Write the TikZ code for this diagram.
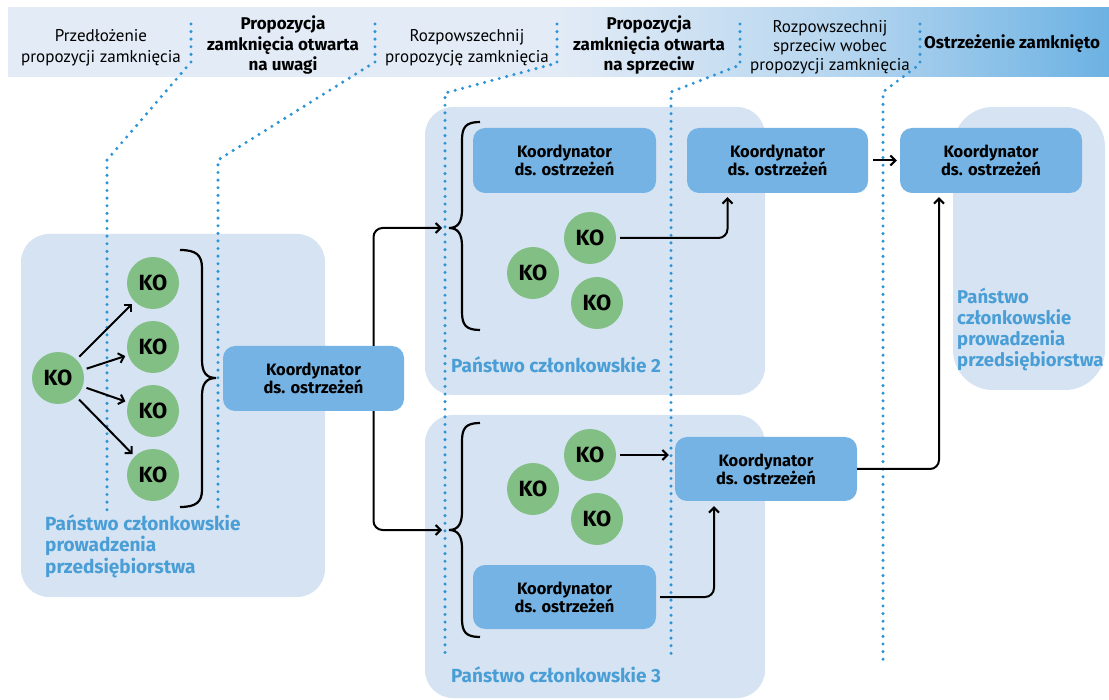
\documentclass[tikz,border=0pt]{standalone}
\usepackage{fontspec}
\setmainfont{PT Sans}
\newfontfamily\heavyfont{Fira Sans}
\usetikzlibrary{arrows.meta}
\definecolor{barlight}{RGB}{226,235,246}
\definecolor{barblue}{RGB}{108,178,227}
\definecolor{panelblue}{RGB}{214,227,242}
\definecolor{boxblue}{RGB}{116,179,227}
\definecolor{kogreen}{RGB}{130,191,132}
\definecolor{sepblue}{RGB}{44,148,215}
\definecolor{labelblue}{RGB}{74,158,214}
\pgfdeclarehorizontalshading{barshade}{100bp}{color(0bp)=(barlight); color(50bp)=(barlight);
  color(63bp)=(barblue!38!barlight); color(75bp)=(barblue); color(100bp)=(barblue)}

\begin{document}
\begin{tikzpicture}[x=1pt,y=-1pt,>={Straight Barb[length=5pt,width=10pt]},
    panel/.style={fill=panelblue,rounded corners=28pt},
    koord/.style={fill=boxblue,rounded corners=12pt,minimum width=182pt,minimum height=65pt,
      align=center,inner sep=0pt,font=\fontsize{16.5}{18}\heavyfont\bfseries},
    ko/.style={circle,fill=kogreen,minimum size=52pt,inner sep=0pt,font=\fontsize{22}{22}\heavyfont\bfseries},
    sep/.style={sepblue,line width=3.4pt,line cap=round,dash pattern=on 0pt off 7.6pt},
    flow/.style={->,line width=2pt,rounded corners=9pt},
    brace/.style={line width=2.2pt},
    head/.style={align=center,inner sep=0pt,font=\fontsize{17}{21}\selectfont},
    headbold/.style={align=center,inner sep=0pt,font=\fontsize{17}{20.5}\heavyfont\bfseries},
    msname/.style={anchor=base west,align=left,inner sep=0pt,text=labelblue,
      font=\fontsize{19}{21.5}\heavyfont\bfseries}]
  \useasboundingbox (0,0) rectangle (1109,700);
  \shade[shading=barshade] (8,8) rectangle (1109,77);

  \path[panel] (21,234) rectangle (325,597);
  \path[panel] (425,107) rectangle (765,395);
  \path[panel] (425,415) rectangle (765,698);
  \path[panel,rounded corners=40pt] (953,107) rectangle (1105,390);

  \draw[sep] (191,24) -- (191,62) -- (107,160) -- (107,512);
  \draw[sep] (375,24) -- (375,62) -- (218,160) -- (218,512);
  \draw[sep] (557,24) -- (557,63) -- (445,93) -- (445,660);
  \draw[sep] (740,24) -- (740,65) -- (671,92) -- (671,660);
  \draw[sep] (920,24) -- (920,64) -- (883,92) -- (883,660);

  \node[head] (t1) at (101,48) {Przedłożenie\\propozycji zamknięcia};
  \node[headbold] (t2) at (283,45) {Propozycja\\zamknięcia otwarta\\na uwagi};
  \node[head] (t3) at (467,48) {Rozpowszechnij\\propozycję zamknięcia};
  \node[headbold] (t4) at (649,45) {Propozycja\\zamknięcia otwarta\\na sprzeciw};
  \node[head,font=\fontsize{17}{19}\selectfont] (t5) at (830,47) {Rozpowszechnij\\sprzeciw wobec\\propozycji zamknięcia};
  \node[headbold] (t6) at (1012,44) {Ostrzeżenie zamknięto};

  \node[ko] (ko0) at (58,378) {KO};
  \node[ko] (ko1) at (153,283) {KO};
  \node[ko] (ko2) at (153,347) {KO};
  \node[ko] (ko3) at (153,411) {KO};
  \node[ko] (ko4) at (153,475) {KO};
  \node[koord,minimum width=181pt] (k1) at (313.5,378.5) {Koordynator\\ds. ostrzeżeń};

  \node[koord,minimum width=183pt] (k2a) at (564.5,160.5) {Koordynator\\ds. ostrzeżeń};
  \node[ko] (ko21) at (590,238) {KO};
  \node[ko] (ko22) at (533,273) {KO};
  \node[ko] (ko23) at (597,303) {KO};
  \node[koord,minimum width=181pt] (k2b) at (777.5,160.5) {Koordynator\\ds. ostrzeżeń};

  \node[ko] (ko31) at (590,455) {KO};
  \node[ko] (ko32) at (533,489) {KO};
  \node[ko] (ko33) at (597,519) {KO};
  \node[koord,minimum width=183pt,minimum height=64pt] (k3a) at (564.5,597) {Koordynator\\ds. ostrzeżeń};
  \node[koord,minimum height=64pt] (k3b) at (766,469) {Koordynator\\ds. ostrzeżeń};

  \node[koord] (k4) at (991,160.5) {Koordynator\\ds. ostrzeżeń};

  \node[msname] (m1) at (45,573) {Państwo członkowskie\\prowadzenia\\przedsiębiorstwa};
  \node[msname] (m2) at (451,373) {Państwo członkowskie 2};
  \node[msname] (m3) at (451,682) {Państwo członkowskie 3};
  \node[msname,font=\fontsize{18.5}{21.3}\heavyfont\bfseries] (m4) at (957,367) {Państwo\\członkowskie\\prowadzenia\\przedsiębiorstwa};

  \draw[brace] (180,250) .. controls (196,250) and (202,255) .. (202,268) -- (202,360)
    .. controls (202,372) and (206,378) .. (216,378) .. controls (206,378) and (202,384) .. (202,396)
    -- (202,490) .. controls (202,502) and (196,507) .. (180,507);
  \foreach \t/\m/\b in {122/228/330,423/530/637}{
    \draw[brace] (480,\t) .. controls (466,\t) and (462,\t+5) .. (462,\t+18) -- (462,\m-18)
      .. controls (462,\m-6) and (458,\m) .. (449,\m) .. controls (458,\m) and (462,\m+6) .. (462,\m+18)
      -- (462,\b-18) .. controls (462,\b-5) and (466,\b) .. (480,\b);
  }
  \coordinate (br2) at (442,228);
  \coordinate (br3) at (442,530);

  \foreach \i in {1,...,4}{
    \draw[flow,shorten <=4pt,shorten >=3pt] (ko0) -- (ko\i);
  }
  \draw[flow] ([xshift=60pt]k1.north) |- (br2);
  \draw[flow] ([xshift=60pt]k1.south) |- (br3);
  \draw[flow,shorten <=4pt,shorten >=4pt] (ko21) -| ([xshift=-50pt]k2b.south);
  \draw[flow,shorten <=5pt,shorten >=3pt] (k2b) -- (k4);
  \draw[flow,shorten <=4pt,shorten >=6pt] (ko31) -- (ko31 -| k3b.west);
  \draw[flow,shorten <=4pt,shorten >=5pt] (k3a) -| ([xshift=-52pt]k3b.south);
  \draw[flow,shorten >=4pt] (k3b) -| ([xshift=-52pt]k4.south);
\end{tikzpicture}
\end{document}
